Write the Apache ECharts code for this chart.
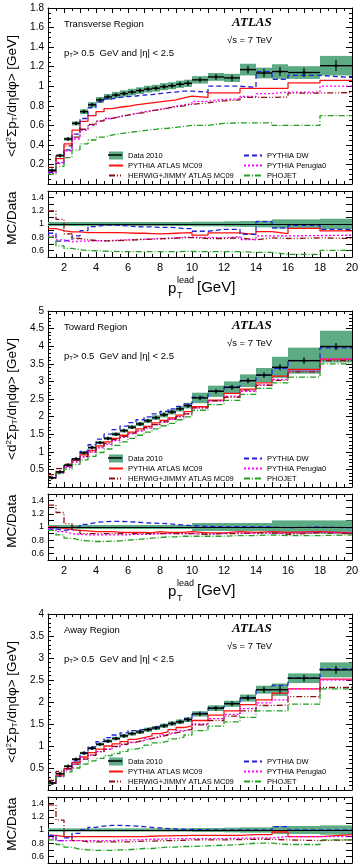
<!DOCTYPE html>
<html>
<head>
<meta charset="utf-8">
<title>Sum pT density vs leading pT</title>
<style>
html, body { margin: 0; padding: 0; background: #fff; }
#chart { width: 360px; height: 867px; }
</style>
</head>
<body>
<div id="chart"></div>
<script src="https://cdn.jsdelivr.net/npm/echarts@6/dist/echarts.min.js"></script>
<script>
// bin edges of pT lead [GeV]
const edges = [1, 1.5, 2, 2.5, 3, 3.5, 4, 4.5, 5, 5.5, 6, 6.5, 7, 7.5, 8, 8.5, 9, 9.5, 10, 11, 12, 13, 14, 15, 16, 18, 20];
const xTickLabels = [2, 4, 6, 8, 10, 12, 14, 16, 18, 20];

// ---- Transverse region ----
const trData = [0.14, 0.29, 0.46, 0.62, 0.74, 0.81, 0.86, 0.89, 0.91, 0.925, 0.94, 0.955, 0.97, 0.98, 0.995, 1.005, 1.02, 1.03, 1.065, 1.095, 1.085, 1.17, 1.135, 1.15, 1.14, 1.21];
const trSys = [0.01, 0.012, 0.016, 0.02, 0.024, 0.027, 0.029, 0.031, 0.032, 0.033, 0.034, 0.034, 0.035, 0.035, 0.036, 0.036, 0.037, 0.037, 0.038, 0.04, 0.042, 0.06, 0.055, 0.075, 0.065, 0.1];
const trStat = [0.003, 0.003, 0.003, 0.003, 0.003, 0.003, 0.004, 0.004, 0.005, 0.005, 0.006, 0.006, 0.007, 0.008, 0.009, 0.01, 0.011, 0.012, 0.012, 0.015, 0.018, 0.025, 0.028, 0.03, 0.03, 0.04];
const trMc09 = [0.13, 0.26, 0.41, 0.55, 0.64, 0.7, 0.74, 0.77, 0.785, 0.795, 0.81, 0.82, 0.83, 0.84, 0.85, 0.86, 0.88, 0.899, 0.885, 0.932, 0.932, 0.977, 0.977, 0.977, 1.034, 1.06];
const trDw = [0.12, 0.21, 0.35, 0.51, 0.67, 0.78, 0.84, 0.87, 0.885, 0.895, 0.9, 0.91, 0.915, 0.925, 0.935, 0.94, 0.95, 0.95, 0.94, 1.0, 1.0, 0.99, 1.15, 1.07, 1.11, 1.09];
const trPer = [0.11, 0.22, 0.34, 0.46, 0.55, 0.6, 0.64, 0.67, 0.69, 0.705, 0.72, 0.74, 0.75, 0.765, 0.78, 0.795, 0.81, 0.82, 0.845, 0.865, 0.87, 0.895, 0.925, 0.94, 0.94, 1.0];
const trHer = [0.17, 0.3, 0.39, 0.48, 0.56, 0.61, 0.645, 0.67, 0.69, 0.705, 0.72, 0.73, 0.75, 0.76, 0.775, 0.79, 0.8, 0.815, 0.83, 0.85, 0.86, 0.885, 0.885, 0.89, 0.93, 0.935];
const trPho = [0.1, 0.18, 0.27, 0.35, 0.41, 0.45, 0.48, 0.5, 0.515, 0.525, 0.535, 0.545, 0.555, 0.565, 0.57, 0.58, 0.59, 0.6, 0.6, 0.62, 0.625, 0.625, 0.625, 0.6, 0.6, 0.7];
const trRBand = [0.03, 0.03, 0.03, 0.03, 0.03, 0.03, 0.03, 0.03, 0.03, 0.03, 0.03, 0.03, 0.03, 0.03, 0.03, 0.03, 0.03, 0.03, 0.035, 0.035, 0.04, 0.045, 0.05, 0.07, 0.07, 0.08];
const trRMc09 = [0.93, 0.9, 0.88, 0.88, 0.87, 0.87, 0.87, 0.87, 0.87, 0.865, 0.86, 0.86, 0.855, 0.85, 0.855, 0.86, 0.865, 0.87, 0.83, 0.865, 0.865, 0.84, 0.885, 0.855, 0.935, 0.895];
const trRDw = [0.86, 0.74, 0.76, 0.82, 0.9, 0.96, 0.98, 0.985, 0.98, 0.97, 0.96, 0.955, 0.955, 0.95, 0.95, 0.945, 0.93, 0.93, 0.89, 0.92, 0.92, 0.845, 1.035, 0.94, 0.98, 0.92];
const trRPer = [0.82, 0.76, 0.73, 0.74, 0.74, 0.745, 0.745, 0.75, 0.755, 0.76, 0.765, 0.77, 0.775, 0.78, 0.785, 0.79, 0.8, 0.8, 0.795, 0.79, 0.81, 0.765, 0.82, 0.82, 0.825, 0.83];
const trRHer = [1.2, 1.07, 0.85, 0.78, 0.76, 0.75, 0.745, 0.745, 0.75, 0.755, 0.76, 0.765, 0.77, 0.775, 0.78, 0.785, 0.79, 0.795, 0.78, 0.78, 0.79, 0.76, 0.79, 0.78, 0.79, 0.78];
const trRPho = [0.8, 0.67, 0.63, 0.61, 0.6, 0.595, 0.59, 0.585, 0.58, 0.58, 0.58, 0.58, 0.58, 0.58, 0.58, 0.58, 0.585, 0.585, 0.58, 0.58, 0.58, 0.57, 0.57, 0.54, 0.54, 0.6];

// ---- Toward region ----
const toData = [0.26, 0.43, 0.62, 0.8, 0.97, 1.12, 1.26, 1.38, 1.5, 1.6, 1.7, 1.79, 1.88, 1.97, 2.05, 2.13, 2.22, 2.31, 2.53, 2.72, 2.83, 3.02, 3.18, 3.4, 3.59, 3.99];
const toSys = [0.01, 0.015, 0.02, 0.025, 0.03, 0.035, 0.04, 0.045, 0.05, 0.05, 0.055, 0.06, 0.06, 0.065, 0.07, 0.07, 0.075, 0.08, 0.15, 0.16, 0.17, 0.18, 0.2, 0.3, 0.37, 0.45];
const toStat = [0.004, 0.004, 0.004, 0.005, 0.005, 0.006, 0.006, 0.007, 0.008, 0.009, 0.01, 0.011, 0.012, 0.013, 0.015, 0.016, 0.018, 0.02, 0.02, 0.025, 0.03, 0.035, 0.04, 0.05, 0.05, 0.06];
const toMc09 = [0.26, 0.42, 0.6, 0.76, 0.91, 1.04, 1.17, 1.28, 1.38, 1.47, 1.56, 1.65, 1.72, 1.82, 1.89, 1.96, 2.04, 2.14, 2.28, 2.47, 2.66, 2.78, 2.96, 3.15, 3.34, 3.63];
const toDw = [0.25, 0.41, 0.6, 0.8, 1.01, 1.2, 1.36, 1.5, 1.63, 1.73, 1.83, 1.91, 1.99, 2.08, 2.15, 2.22, 2.29, 2.36, 2.55, 2.72, 2.85, 3.02, 3.18, 3.37, 3.59, 3.95];
const toPer = [0.25, 0.4, 0.56, 0.71, 0.85, 0.99, 1.11, 1.21, 1.32, 1.41, 1.51, 1.59, 1.67, 1.77, 1.85, 1.92, 2.0, 2.08, 2.25, 2.45, 2.58, 2.72, 2.9, 3.06, 3.3, 3.63];
const toHer = [0.35, 0.52, 0.65, 0.76, 0.87, 1.0, 1.13, 1.24, 1.35, 1.44, 1.53, 1.61, 1.69, 1.77, 1.85, 1.92, 2.0, 2.08, 2.25, 2.45, 2.55, 2.75, 2.89, 3.03, 3.27, 3.59];
const toPho = [0.25, 0.38, 0.51, 0.64, 0.77, 0.87, 0.98, 1.08, 1.18, 1.28, 1.38, 1.47, 1.56, 1.65, 1.74, 1.81, 1.91, 1.99, 2.18, 2.34, 2.46, 2.63, 2.8, 2.96, 3.12, 3.5];
const toRBand = [0.03, 0.03, 0.03, 0.03, 0.03, 0.03, 0.03, 0.03, 0.03, 0.03, 0.03, 0.03, 0.03, 0.03, 0.03, 0.03, 0.03, 0.03, 0.06, 0.06, 0.06, 0.06, 0.06, 0.1, 0.1, 0.1];
const toRMc09 = [1.0, 0.98, 0.96, 0.95, 0.94, 0.93, 0.93, 0.93, 0.92, 0.92, 0.92, 0.92, 0.91, 0.93, 0.92, 0.92, 0.92, 0.93, 0.91, 0.91, 0.93, 0.92, 0.93, 0.92, 0.93, 0.91];
const toRDw = [0.97, 0.95, 0.96, 1.0, 1.04, 1.07, 1.08, 1.085, 1.085, 1.08, 1.075, 1.065, 1.06, 1.055, 1.05, 1.04, 1.03, 1.02, 1.01, 1.0, 1.005, 1.0, 1.0, 0.99, 1.0, 0.99];
const toRPer = [0.97, 0.93, 0.9, 0.89, 0.88, 0.88, 0.88, 0.88, 0.88, 0.88, 0.89, 0.89, 0.89, 0.9, 0.9, 0.9, 0.9, 0.9, 0.89, 0.9, 0.91, 0.9, 0.91, 0.9, 0.92, 0.91];
const toRHer = [1.33, 1.22, 1.05, 0.95, 0.9, 0.9, 0.9, 0.9, 0.9, 0.9, 0.9, 0.9, 0.9, 0.9, 0.9, 0.9, 0.9, 0.9, 0.89, 0.9, 0.9, 0.91, 0.91, 0.89, 0.91, 0.9];
const toRPho = [0.95, 0.88, 0.83, 0.8, 0.79, 0.78, 0.78, 0.785, 0.79, 0.8, 0.81, 0.82, 0.83, 0.84, 0.85, 0.85, 0.86, 0.86, 0.86, 0.86, 0.87, 0.87, 0.88, 0.87, 0.87, 0.88];

// ---- Away region ----
const awData = [0.16, 0.37, 0.54, 0.7, 0.84, 0.95, 1.04, 1.11, 1.17, 1.23, 1.28, 1.32, 1.37, 1.41, 1.46, 1.51, 1.55, 1.6, 1.73, 1.86, 1.96, 2.09, 2.28, 2.28, 2.54, 2.73];
const awSys = [0.01, 0.015, 0.02, 0.025, 0.028, 0.032, 0.035, 0.037, 0.04, 0.041, 0.043, 0.044, 0.046, 0.047, 0.049, 0.05, 0.052, 0.054, 0.06, 0.065, 0.07, 0.08, 0.09, 0.14, 0.11, 0.17];
const awStat = [0.004, 0.004, 0.004, 0.005, 0.005, 0.006, 0.006, 0.007, 0.008, 0.009, 0.01, 0.011, 0.012, 0.013, 0.014, 0.015, 0.016, 0.018, 0.02, 0.022, 0.025, 0.03, 0.04, 0.05, 0.05, 0.06];
const awMc09 = [0.15, 0.34, 0.49, 0.63, 0.75, 0.85, 0.93, 1.0, 1.05, 1.1, 1.15, 1.19, 1.23, 1.28, 1.32, 1.37, 1.42, 1.46, 1.58, 1.7, 1.8, 1.94, 2.05, 2.2, 2.3, 2.52];
const awDw = [0.15, 0.31, 0.48, 0.66, 0.83, 0.98, 1.1, 1.19, 1.25, 1.3, 1.35, 1.38, 1.41, 1.45, 1.49, 1.53, 1.57, 1.62, 1.74, 1.87, 1.97, 2.1, 2.28, 2.38, 2.55, 2.75];
const awPer = [0.14, 0.31, 0.46, 0.59, 0.71, 0.8, 0.87, 0.93, 0.98, 1.03, 1.08, 1.12, 1.17, 1.21, 1.26, 1.3, 1.35, 1.39, 1.5, 1.62, 1.72, 1.85, 1.98, 2.05, 2.3, 2.5];
const awHer = [0.22, 0.42, 0.48, 0.59, 0.7, 0.79, 0.87, 0.93, 0.99, 1.04, 1.09, 1.13, 1.17, 1.21, 1.25, 1.3, 1.34, 1.38, 1.48, 1.58, 1.68, 1.8, 1.92, 1.93, 2.12, 2.33];
const awPho = [0.14, 0.3, 0.41, 0.5, 0.59, 0.66, 0.72, 0.78, 0.83, 0.88, 0.93, 0.97, 1.02, 1.07, 1.11, 1.16, 1.2, 1.25, 1.35, 1.45, 1.55, 1.65, 1.8, 1.8, 1.95, 2.3];
const awRBand = [0.025, 0.025, 0.025, 0.025, 0.025, 0.025, 0.025, 0.025, 0.025, 0.025, 0.025, 0.025, 0.025, 0.025, 0.025, 0.025, 0.025, 0.025, 0.03, 0.03, 0.035, 0.04, 0.04, 0.06, 0.06, 0.07];
const awRMc09 = [0.92, 0.9, 0.9, 0.9, 0.9, 0.9, 0.9, 0.9, 0.9, 0.9, 0.9, 0.9, 0.905, 0.91, 0.91, 0.915, 0.915, 0.92, 0.92, 0.92, 0.92, 0.93, 0.93, 0.97, 0.9, 0.93];
const awRDw = [0.92, 0.84, 0.88, 0.95, 1.0, 1.04, 1.06, 1.07, 1.07, 1.065, 1.06, 1.05, 1.04, 1.03, 1.02, 1.015, 1.01, 1.01, 1.0, 1.0, 1.0, 1.0, 1.0, 1.05, 1.0, 1.0];
const awRPer = [0.88, 0.84, 0.84, 0.84, 0.84, 0.84, 0.84, 0.84, 0.845, 0.85, 0.85, 0.855, 0.86, 0.86, 0.865, 0.87, 0.87, 0.87, 0.87, 0.87, 0.875, 0.88, 0.88, 0.9, 0.9, 0.9];
const awRHer = [1.38, 1.15, 0.9, 0.84, 0.82, 0.82, 0.82, 0.82, 0.82, 0.82, 0.825, 0.83, 0.83, 0.835, 0.84, 0.84, 0.845, 0.85, 0.85, 0.85, 0.855, 0.86, 0.86, 0.85, 0.84, 0.85];
const awRPho = [0.85, 0.78, 0.74, 0.71, 0.7, 0.69, 0.69, 0.69, 0.7, 0.7, 0.71, 0.72, 0.72, 0.73, 0.74, 0.74, 0.75, 0.75, 0.76, 0.77, 0.78, 0.8, 0.8, 0.78, 0.78, 0.85];

const FONT = 'Liberation Sans';
const GREEN = '#5dab84';
const mcStyles = [
  { name: 'PYTHIA ATLAS MC09', color: '#ff1010', dash: 'solid' },
  { name: 'PYTHIA DW', color: '#2020d8', dash: [5, 3] },
  { name: 'PYTHIA Perugia0', color: '#ff00ff', dash: [2, 2] },
  { name: 'HERWIG+JIMMY ATLAS MC09', color: '#8b1010', dash: [6, 2, 1, 2, 1, 2] },
  { name: 'PHOJET', color: '#20a020', dash: [6, 2, 1, 2] }
];

const panels = [
  { title: 'Transverse Region', ymax: 1.8, yint: 0.2, minor: 4, data: trData, sys: trSys, stat: trStat,
    mc: [trMc09, trDw, trPer, trHer, trPho], rband: trRBand, ratio: [trRMc09, trRDw, trRPer, trRHer, trRPho] },
  { title: 'Toward Region', ymax: 5, yint: 0.5, minor: 5, data: toData, sys: toSys, stat: toStat,
    mc: [toMc09, toDw, toPer, toHer, toPho], rband: toRBand, ratio: [toRMc09, toRDw, toRPer, toRHer, toRPho] },
  { title: 'Away Region', ymax: 4, yint: 0.5, minor: 5, data: awData, sys: awSys, stat: awStat,
    mc: [awMc09, awDw, awPer, awHer, awPho], rband: awRBand, ratio: [awRMc09, awRDw, awRPer, awRHer, awRPho] }
];

function stepPoints(vals) {
  const pts = vals.map((v, i) => [edges[i], v]);
  pts.push([edges[edges.length - 1], vals[vals.length - 1]]);
  return pts;
}

function bandRender(params, api) {
  const p1 = api.coord([api.value(0), api.value(3)]);
  const p2 = api.coord([api.value(1), api.value(2)]);
  return { type: 'rect', shape: { x: p1[0], y: p1[1], width: p2[0] - p1[0], height: p2[1] - p1[1] },
    style: { fill: GREEN } };
}

function crossRender(params, api) {
  const lo = api.value(0), hi = api.value(1), v = api.value(2), e = api.value(3);
  const a = api.coord([lo, v]), b = api.coord([hi, v]);
  const c = api.coord([(lo + hi) / 2, v - e]), d = api.coord([(lo + hi) / 2, v + e]);
  return { type: 'group', children: [
    { type: 'line', shape: { x1: a[0], y1: a[1], x2: b[0], y2: b[1] }, style: { stroke: '#000', lineWidth: 1.4 } },
    { type: 'line', shape: { x1: c[0], y1: c[1] + 1.5, x2: d[0], y2: d[1] - 1.5 }, style: { stroke: '#000', lineWidth: 1.1 } },
    { type: 'rect', shape: { x: a[0] / 2 + b[0] / 2 - 1.2, y: a[1] - 1.2, width: 2.4, height: 2.4 }, style: { fill: '#000' } }
  ] };
}

const grids = [], xAxes = [], yAxes = [], series = [], legends = [], graphics = [];
const tickStyle = { color: '#000', width: 1 };

function addX(g, labels) {
  [['bottom', labels], ['top', false]].forEach(([pos, show]) => {
    xAxes.push({
      gridIndex: g, type: 'value', position: pos, min: 1, max: 20, interval: 1,
      axisLine: { show: true, onZero: false, lineStyle: tickStyle },
      axisTick: { show: true, inside: true, length: 5, lineStyle: tickStyle },
      minorTick: { show: true, splitNumber: 2, length: 3, lineStyle: tickStyle },
      splitLine: { show: false },
      axisLabel: { show: show, color: '#000', fontFamily: FONT, fontSize: 11, margin: 5,
        formatter: v => (xTickLabels.indexOf(v) >= 0 ? String(v) : '') }
    });
  });
}

function addY(g, min, max, interval, minor, fmt, fontSize) {
  [['left', true], ['right', false]].forEach(([pos, show]) => {
    yAxes.push({
      gridIndex: g, type: 'value', position: pos, min: min, max: max, interval: interval,
      axisLine: { show: true, onZero: false, lineStyle: tickStyle },
      axisTick: { show: true, inside: true, length: 6, lineStyle: tickStyle },
      minorTick: { show: minor > 0, splitNumber: Math.max(minor, 1), length: 3, lineStyle: tickStyle },
      splitLine: { show: false },
      axisLabel: { show: show, color: '#000', fontFamily: FONT, fontSize: fontSize, margin: 4, formatter: fmt }
    });
  });
}

panels.forEach((p, k) => {
  const off = 303 * k;
  const gm = 2 * k, gr = 2 * k + 1;
  grids.push({ left: 48, right: 8, top: 8 + off, height: 176, outerBoundsMode: 'none' });
  grids.push({ left: 48, right: 8, top: 191 + off, height: 66, outerBoundsMode: 'none' });
  addX(gm, false);
  addY(gm, 0, p.ymax, p.yint, p.minor, v => (v === 0 ? '' : String(Math.round(v * 100) / 100)), 10);
  addX(gr, true);
  addY(gr, 0.5, 1.5, 0.1, 0, v => {
    const t = Math.round(v * 10);
    return (t % 2 === 0) ? String(t / 10) : '';
  }, 9);

  const xm = 2 * gm, xr = 2 * gr;
  // main panel
  series.push({
    name: 'Data 2010', type: 'custom', xAxisIndex: xm, yAxisIndex: xm, z: 1,
    renderItem: bandRender, encode: { x: [0, 1], y: [2, 3] },
    data: p.data.map((v, i) => [edges[i], edges[i + 1], v - p.sys[i], v + p.sys[i]])
  });
  mcStyles.forEach((m, j) => {
    series.push({
      name: m.name, type: 'line', xAxisIndex: xm, yAxisIndex: xm, step: 'end', symbol: 'none', z: 3,
      lineStyle: { color: m.color, type: m.dash, width: 1.3 }, itemStyle: { color: m.color },
      data: stepPoints(p.mc[j]), animation: false
    });
  });
  series.push({
    name: 'Data 2010', type: 'custom', xAxisIndex: xm, yAxisIndex: xm, z: 4,
    renderItem: crossRender, encode: { x: [0, 1], y: 2 },
    data: p.data.map((v, i) => [edges[i], edges[i + 1], v, p.stat[i]])
  });
  // ratio panel
  series.push({
    name: 'Data 2010', type: 'custom', xAxisIndex: xr, yAxisIndex: xr, z: 1,
    renderItem: bandRender, encode: { x: [0, 1], y: [2, 3] },
    data: p.rband.map((e, i) => [edges[i], edges[i + 1], 1 - e, 1 + e]),
    markLine: { silent: true, symbol: 'none', label: { show: false }, animation: false,
      lineStyle: { color: '#000', type: 'solid', width: 1 }, data: [{ yAxis: 1 }] }
  });
  mcStyles.forEach((m, j) => {
    series.push({
      name: m.name, type: 'line', xAxisIndex: xr, yAxisIndex: xr, step: 'end', symbol: 'none', z: 3,
      lineStyle: { color: m.color, type: m.dash, width: 1.3 }, itemStyle: { color: m.color },
      data: stepPoints(p.ratio[j]), animation: false
    });
  });

  const legText = { fontFamily: FONT, fontSize: 7.5, color: '#000', lineHeight: 10 };
  legends.push({
    left: 108, top: 150.5 + off, orient: 'vertical', itemGap: 0, itemWidth: 14, itemHeight: 8, padding: 0,
    textStyle: legText, selectedMode: false, itemStyle: { opacity: 0 },
    data: [{ name: 'Data 2010', icon: 'rect', itemStyle: { color: GREEN, opacity: 1 } }, 'PYTHIA ATLAS MC09', 'HERWIG+JIMMY ATLAS MC09']
  });
  legends.push({
    left: 243, top: 150.5 + off, orient: 'vertical', itemGap: 0, itemWidth: 18, itemHeight: 8, padding: 0,
    textStyle: legText, selectedMode: false, itemStyle: { opacity: 0 },
    data: ['PYTHIA DW', 'PYTHIA Perugia0', 'PHOJET']
  });

  graphics.push(
    { type: 'line', z: 100, shape: { x1: 108, y1: 155 + off, x2: 122, y2: 155 + off }, style: { stroke: '#000', lineWidth: 1.5 } },
    { type: 'text', left: 64, top: 19 + off, style: { text: p.title, font: '9.5px ' + FONT, fill: '#000' } },
    { type: 'text', left: 232, top: 16 + off, style: { text: 'ATLAS', font: 'italic bold 13px Liberation Serif', fill: '#000' } },
    { type: 'text', left: 227, top: 35 + off, style: { text: '\u221As = 7 TeV', font: '9.5px ' + FONT, fill: '#000' } },
    { type: 'text', left: 64, top: 48 + off, style: {
      text: 'p{s|T}> 0.5  GeV and |\u03b7| < 2.5', font: '9.5px ' + FONT, fill: '#000',
      rich: { s: { fontSize: 6, fontFamily: FONT, padding: [5, 0, 0, 0] } } } },
    { type: 'text', x: 12, y: 96 + off, rotation: Math.PI / 2, style: {
      text: '<d{u|2}\u03a3p{s|T}/d\u03b7d\u03c6> [GeV]', font: '13.5px ' + FONT, fill: '#000',
      align: 'center', verticalAlign: 'middle', textAlign: 'center', textVerticalAlign: 'middle',
      rich: { u: { fontSize: 8, fontFamily: FONT, padding: [0, 0, 7, 0] }, s: { fontSize: 8, fontFamily: FONT, padding: [6, 0, 0, 0] } } } },
    { type: 'text', x: 12, y: 218 + off, rotation: Math.PI / 2, style: {
      text: 'MC/Data', font: '13.5px ' + FONT, fill: '#000',
      align: 'center', verticalAlign: 'middle', textAlign: 'center', textVerticalAlign: 'middle' } },
    { type: 'text', x: 168, y: 289 + off, style: { text: 'p', font: '15px ' + FONT, fill: '#000', verticalAlign: 'middle', textVerticalAlign: 'middle' } },
    { type: 'text', x: 177, y: 281 + off, style: { text: 'lead', font: '9px ' + FONT, fill: '#000', verticalAlign: 'middle', textVerticalAlign: 'middle' } },
    { type: 'text', x: 177, y: 296 + off, style: { text: 'T', font: '9px ' + FONT, fill: '#000', verticalAlign: 'middle', textVerticalAlign: 'middle' } },
    { type: 'text', x: 197, y: 288 + off, style: { text: '[GeV]', font: '15px ' + FONT, fill: '#000', verticalAlign: 'middle', textVerticalAlign: 'middle' } }
  );
});

const chart = echarts.init(document.getElementById('chart'), null, { renderer: 'canvas' });
chart.setOption({
  animation: false,
  backgroundColor: '#fff',
  grid: grids,
  xAxis: xAxes,
  yAxis: yAxes,
  legend: legends,
  series: series,
  graphic: graphics
});
</script>
</body>
</html>
